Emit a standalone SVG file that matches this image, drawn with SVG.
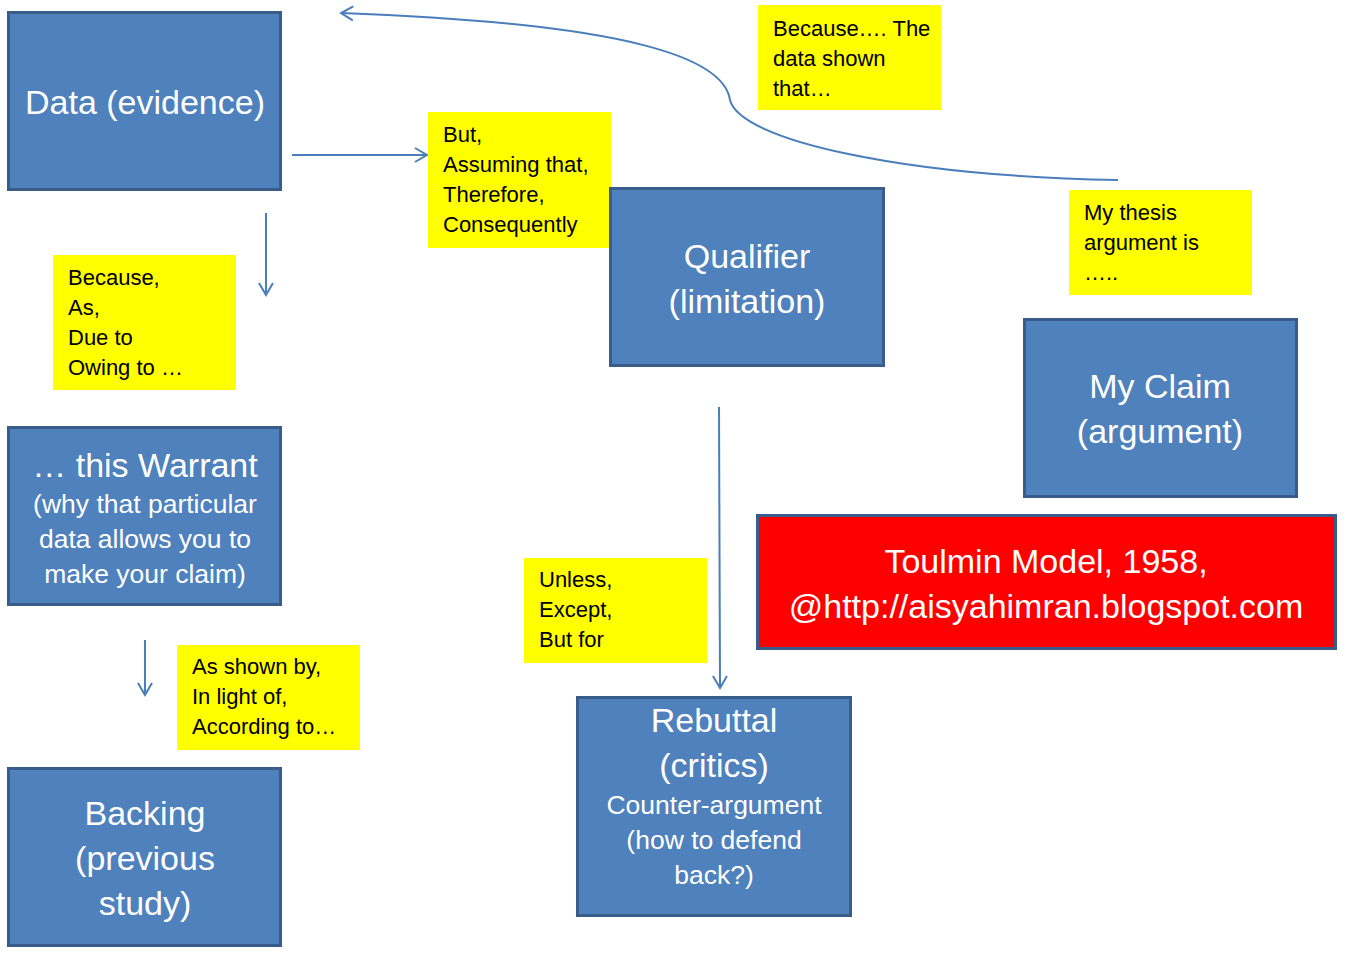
<svg xmlns="http://www.w3.org/2000/svg" width="1348" height="980" viewBox="0 0 1348 980">
<defs>
<style>
.box{fill:#4F81BD;stroke:#385D8A;stroke-width:3}
.red{fill:#FF0000;stroke:#385D8A;stroke-width:3}
.note{fill:#FFFF00}
.big{font-family:"Liberation Sans",Arial,sans-serif;font-size:34px;fill:#fff;text-anchor:middle}
.mid{font-family:"Liberation Sans",Arial,sans-serif;font-size:26.5px;fill:#fff;text-anchor:middle}
.nt{font-family:"Liberation Sans",Arial,sans-serif;font-size:22px;fill:#000}
.con{fill:none;stroke:#4A7EBB;stroke-width:2}
</style>
<marker id="arr" viewBox="0 0 16 16" refX="14" refY="8" markerWidth="16" markerHeight="16" markerUnits="userSpaceOnUse" orient="auto">
<path d="M2,1 L14,8 L2,15" fill="none" stroke="#4A7EBB" stroke-width="2"/>
</marker>
</defs>
<rect width="1348" height="980" fill="#fff"/>

<g id="connectors">
<path class="con" d="M1118,180 C900,176 740,140 730,100 C724,60 640,24 341,13" marker-end="url(#arr)"/>
<line class="con" x1="292" y1="155" x2="427" y2="155" marker-end="url(#arr)"/>
<line class="con" x1="266" y1="213" x2="266" y2="295" marker-end="url(#arr)"/>
<line class="con" x1="145" y1="640" x2="145" y2="695" marker-end="url(#arr)"/>
<line class="con" x1="719" y1="407" x2="720" y2="688" marker-end="url(#arr)"/>
</g>

<g id="note-because-data">
<rect class="note" x="758" y="5" width="183" height="105"/>
<text class="nt" x="773" y="36">Because…. The</text>
<text class="nt" x="773" y="66">data shown</text>
<text class="nt" x="773" y="96">that…</text>
</g>

<g id="note-but">
<rect class="note" x="428" y="112" width="183" height="136"/>
<text class="nt" x="443" y="142">But,</text>
<text class="nt" x="443" y="172">Assuming that,</text>
<text class="nt" x="443" y="202">Therefore,</text>
<text class="nt" x="443" y="232">Consequently</text>
</g>

<g id="note-because">
<rect class="note" x="53" y="255" width="183" height="135"/>
<text class="nt" x="68" y="285">Because,</text>
<text class="nt" x="68" y="315">As,</text>
<text class="nt" x="68" y="345">Due to</text>
<text class="nt" x="68" y="375">Owing to …</text>
</g>

<g id="note-thesis">
<rect class="note" x="1069" y="190" width="183" height="105"/>
<text class="nt" x="1084" y="220">My thesis</text>
<text class="nt" x="1084" y="250">argument is</text>
<text class="nt" x="1084" y="280">…..</text>
</g>

<g id="note-unless">
<rect class="note" x="524" y="558" width="183" height="105"/>
<text class="nt" x="539" y="587">Unless,</text>
<text class="nt" x="539" y="617">Except,</text>
<text class="nt" x="539" y="647">But for</text>
</g>

<g id="note-shown">
<rect class="note" x="177" y="645" width="183" height="105"/>
<text class="nt" x="192" y="674">As shown by,</text>
<text class="nt" x="192" y="704">In light of,</text>
<text class="nt" x="192" y="734">According to…</text>
</g>

<g id="data">
<rect class="box" x="8.5" y="12.5" width="272" height="177"/>
<text class="big" x="145" y="114">Data (evidence)</text>
</g>

<g id="qualifier">
<rect class="box" x="610.5" y="188.5" width="273" height="177"/>
<text class="big" x="747" y="268">Qualifier</text>
<text class="big" x="747" y="313">(limitation)</text>
</g>

<g id="claim">
<rect class="box" x="1024.5" y="319.5" width="272" height="177"/>
<text class="big" x="1160" y="398">My Claim</text>
<text class="big" x="1160" y="443">(argument)</text>
</g>

<g id="warrant">
<rect class="box" x="8.5" y="427.5" width="272" height="177"/>
<text class="big" x="145" y="477">… this Warrant</text>
<text class="mid" x="145" y="513">(why that particular</text>
<text class="mid" x="145" y="548">data allows you to</text>
<text class="mid" x="145" y="583">make your claim)</text>
</g>

<g id="toulmin">
<rect class="red" x="757.5" y="515.5" width="578" height="133"/>
<text class="big" x="1046" y="573" font-size="35.5">Toulmin Model, 1958,</text>
<text class="big" x="1046" y="618" font-size="35.5">@http://aisyahimran.blogspot.com</text>
</g>

<g id="rebuttal">
<rect class="box" x="577.5" y="697.5" width="273" height="218"/>
<text class="big" x="714" y="732">Rebuttal</text>
<text class="big" x="714" y="777">(critics)</text>
<text class="mid" x="714" y="814">Counter-argument</text>
<text class="mid" x="714" y="849">(how to defend</text>
<text class="mid" x="714" y="884">back?)</text>
</g>

<g id="backing">
<rect class="box" x="8.5" y="768.5" width="272" height="177"/>
<text class="big" x="145" y="825">Backing</text>
<text class="big" x="145" y="870">(previous</text>
<text class="big" x="145" y="915">study)</text>
</g>
</svg>
